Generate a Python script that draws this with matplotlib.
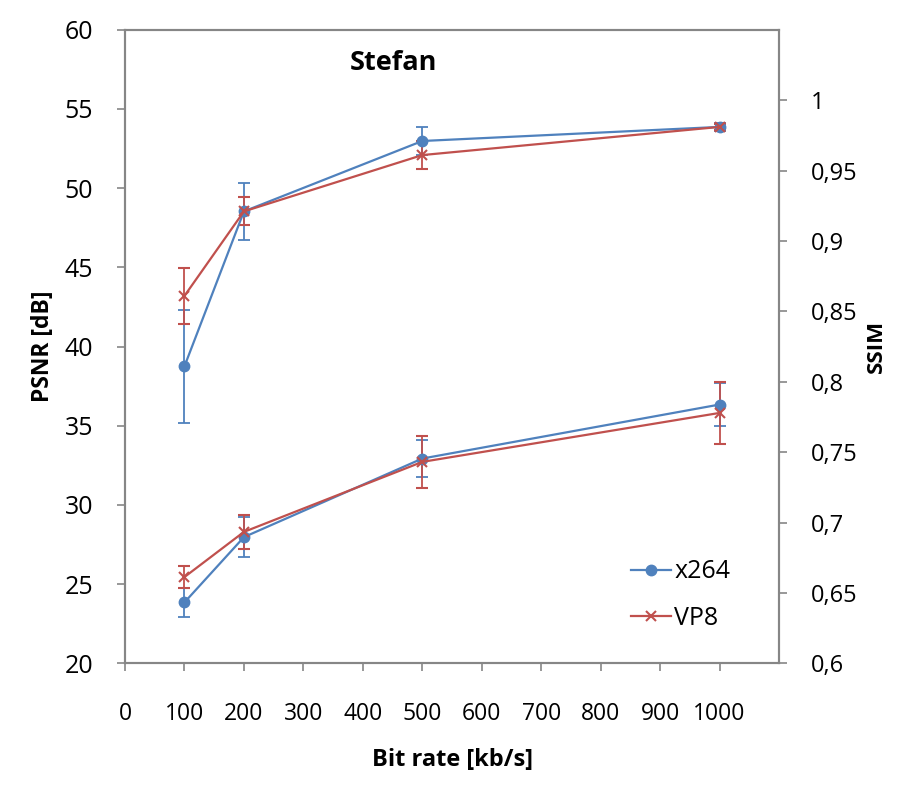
import matplotlib
matplotlib.use("Agg")
import matplotlib.pyplot as plt
from matplotlib.lines import Line2D

plt.rcParams['font.family'] = ['Open Sans', 'DejaVu Sans']

bitrate = [100, 200, 500, 1000]
psnr_x264 = [23.85, 27.97, 32.93, 36.34]
psnr_x264_err = [0.9, 1.25, 1.15, 1.38]
psnr_vp8 = [25.45, 28.3, 32.72, 35.81]
psnr_vp8_err = [0.68, 1.05, 1.65, 1.97]
ssim_x264 = [0.811, 0.921, 0.971, 0.981]
ssim_x264_err = [0.04, 0.02, 0.01, 0.003]
ssim_vp8 = [0.861, 0.921, 0.961, 0.981]
ssim_vp8_err = [0.02, 0.01, 0.01, 0.002]

x_ticks = [0, 100, 200, 300, 400, 500, 600, 700, 800, 900, 1000]
psnr_ticks = [20, 25, 30, 35, 40, 45, 50, 55, 60]
ssim_ticks = [0.6, 0.65, 0.7, 0.75, 0.8, 0.85, 0.9, 0.95, 1.0]
ssim_labels = ["0,6", "0,65", "0,7", "0,75", "0,8", "0,85", "0,9", "0,95", "1"]

blue = "#4F81BD"
red = "#C0504D"
spine_c = "#868686"

fig = plt.figure(figsize=(9, 8), dpi=100)
ax = fig.add_axes([0.1389, 0.1708, 0.7267, 0.792])
ax2 = ax.twinx()

kw = dict(lw=1.6, capsize=4.5, elinewidth=1.3, capthick=1.3)
ax.errorbar(bitrate, psnr_x264, yerr=psnr_x264_err, color=blue, marker='o', ms=7.5, **kw)
ax.errorbar(bitrate, psnr_vp8, yerr=psnr_vp8_err, color=red, marker='x', ms=7.5, mew=1.5, **kw)
ax2.errorbar(bitrate, ssim_x264, yerr=ssim_x264_err, color=blue, marker='o', ms=7.5, **kw)
ax2.errorbar(bitrate, ssim_vp8, yerr=ssim_vp8_err, color=red, marker='x', ms=7.5, mew=1.5, **kw)

ax.set_xlim(0, 1100)
ax.set_ylim(20, 60)
ax2.set_ylim(0.6, 1.05)
ax.set_xticks(x_ticks)
ax.set_xticklabels([str(t) for t in x_ticks])
ax.set_yticks(psnr_ticks)
ax2.set_yticks(ssim_ticks)
ax2.set_yticklabels(ssim_labels)

for a in (ax, ax2):
    for s in a.spines.values():
        s.set_color(spine_c)
        s.set_linewidth(1.5)
ax.tick_params(axis='x', direction='out', length=6, width=1.2, color=spine_c, pad=22, labelsize=16.5)
ax.tick_params(axis='y', direction='out', length=6, width=1.2, color=spine_c, pad=17, labelsize=18)
ax2.tick_params(axis='y', direction='out', length=6, width=1.2, color=spine_c, pad=17, labelsize=17)

ax.set_xlabel("Bit rate [kb/s]", fontsize=17, fontweight='bold', labelpad=16)
ax.set_ylabel("PSNR [dB]", fontsize=16.5, fontweight='bold', labelpad=7)
ax2.set_ylabel("SSIM", fontsize=16, fontweight='bold', labelpad=6, rotation=90)

ax.text(0.41, 0.948, "Stefan", transform=ax.transAxes, ha='center', va='center',
        fontsize=19.5, fontweight='bold')

handles = [Line2D([], [], color=blue, marker='o', ms=7.5, lw=1.6),
           Line2D([], [], color=red, marker='x', ms=7.5, mew=1.5, lw=1.6)]
ax2.legend(handles, ["x264", "VP8"], loc='lower right', bbox_to_anchor=(0.96, 0.016),
           frameon=False, fontsize=18, handlelength=1.6, handletextpad=0.15, labelspacing=0.85)

fig.savefig("out.png", dpi=100)
